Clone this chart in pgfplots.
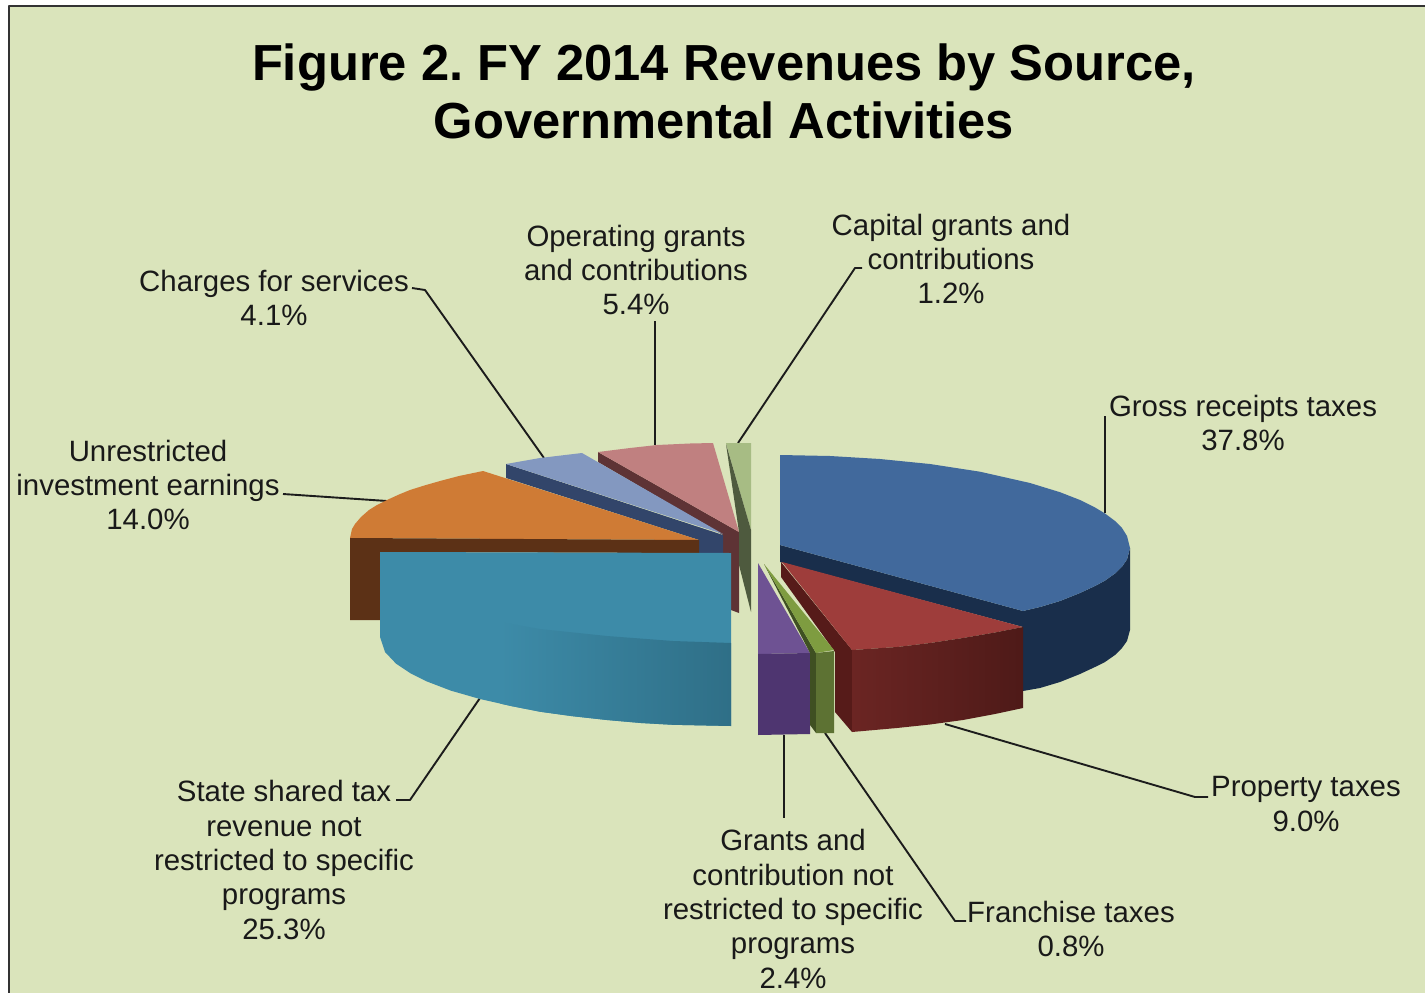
\documentclass[border=0pt]{standalone}
\usepackage{pgfplots}
\pgfplotsset{compat=1.18}
\usepackage{fontspec}
\setmainfont{Liberation Sans}
\frenchspacing
\definecolor{bg}{HTML}{DAE4BB}
\definecolor{blueT}{HTML}{41699C}\definecolor{blueD}{HTML}{192E4B}
\definecolor{redT}{HTML}{9E3D3B}\definecolor{redL}{HTML}{6B2523}\definecolor{redR}{HTML}{4E1A18}\definecolor{redS}{HTML}{561B19}
\definecolor{purT}{HTML}{6E5293}\definecolor{purF}{HTML}{4E3570}
\definecolor{grnT}{HTML}{7E9C40}\definecolor{grnF}{HTML}{5D7233}\definecolor{grnS}{HTML}{3F5022}
\definecolor{tealT}{HTML}{3D8BA8}\definecolor{tealD}{HTML}{2F6F87}
\definecolor{orgT}{HTML}{CF7B35}\definecolor{orgD}{HTML}{5C3116}
\definecolor{bgyT}{HTML}{8398C0}\definecolor{bgyD}{HTML}{32456A}
\definecolor{pnkT}{HTML}{C08080}\definecolor{pnkD}{HTML}{5E3335}
\definecolor{lgT}{HTML}{A7BC84}\definecolor{lgD}{HTML}{4E5A3E}
\definecolor{lead}{HTML}{1C1C1C}
\begin{document}
\begin{tikzpicture}
\begin{axis}[hide axis,scale only axis,width=1425pt,height=993pt,
  xmin=0,xmax=1425,ymin=0,ymax=993,y dir=reverse,
  every axis plot/.append style={line join=round}]
% page, background and frame
\addplot[fill=white,draw=none] coordinates {(0,0)(1425,0)(1425,993)(0,993)} --cycle;
\addplot[fill=bg,draw=none] coordinates {(9,6)(1425,6)(1425,993)(9,993)} --cycle;
\addplot[draw=black!80,line width=2pt] coordinates {(9,993)(9,6)(1425,6)};
% leaders
\addplot[lead,line width=1.9pt] coordinates {(1105,416)(1105,513)};
\addplot[lead,line width=1.9pt] coordinates {(1208,797)(1195,797)(945,724)};
\addplot[lead,line width=1.9pt] coordinates {(966,921)(955,921)(825,733)};
\addplot[lead,line width=1.9pt] coordinates {(784,735)(784,818)};
\addplot[lead,line width=1.9pt] coordinates {(480,698)(410,800)(396,800)};
\addplot[lead,line width=1.9pt] coordinates {(283,494)(387,501)};
\addplot[lead,line width=1.9pt] coordinates {(412,288)(425,290)(544,458)};
\addplot[lead,line width=1.9pt] coordinates {(655,321)(655,445)};
\addplot[lead,line width=1.9pt] coordinates {(862,268)(855,268)(738,443)};
% pink slice
\addplot[fill=pnkD,draw=none] coordinates {(598,452)(739,532)(739,613)(731,610)(731,553)(723,553)(723,535)(598,462)} --cycle;
\addplot[fill=pnkT,draw=none] coordinates {(598,452)(630,448)(657,445)(690,443.5)(713,443)(739,532)} --cycle;
% blue-gray slice
\addplot[fill=bgyD,draw=none] coordinates {(506,464)(723,535)(723,553)(699,553)(699,540)(506,478)} --cycle;
\addplot[fill=bgyT,draw=none] coordinates {(506,464)(540,458)(582,453)(723,534)} --cycle;
% capital grants
\addplot[fill=lgT,draw=none] coordinates {(726,443)(751,443)(751,530)} --cycle;
\addplot[fill=lgD,draw=none] coordinates {(726,444)(751,530)(751,612)(739,565)(739,532)} --cycle;
% orange slice
\addplot[fill=orgT,draw=none] coordinates {(350,538)(352,529)(355,524)(361,517)(369,510)(377,505)(387,500)(399,494.5)(410,490)(424,485.6)(440,481)(459,476)(483,471)(699,540)} --cycle;
\addplot[fill=orgD,draw=none] coordinates {(350,538)(699,540)(699,553)(380,552)(380,620)(350,620)} --cycle;
% teal slice
\addplot[fill=tealT,draw=none] coordinates {(380,552)(731,553)(731,726)(673,724.8)(641,723)(607,720)(571,716)(540,711.7)(511,706)(480,699)(451,690.7)(427,681.5)(411,673.6)(396,663.6)(385,652)(380,637)} --cycle;
\addplot[left color=tealT,right color=tealD,draw=none] coordinates {(500,622)(540,629)(607,636)(673,641)(731,643)(731,726)(673,724.8)(641,723)(607,720)(571,716)(540,711.7)(511,706)(500,703.5)} --cycle;
% blue slice
\addplot[fill=blueD,draw=none] coordinates {(780,545)(1023,611)(1040,607)(1060,601)(1080,593)(1095,586)(1105,580.6)(1115,573.5)(1122,566.7)(1127,559.5)(1130,548)(1130,630)(1127,641)(1122,648)(1115,655)(1105,662)(1095,667)(1080,674)(1060,682)(1040,688)(1023,691)(1023,627)(780,562)} --cycle;
\addplot[fill=blueT,draw=none] coordinates {(780,455)(830,456)(880,459)(930,464)(980,471.7)(1030,483)(1060,492.2)(1080,500)(1095,507.5)(1105,513.5)(1115,521)(1122,528)(1127,536)(1130,548)(1127,559.5)(1122,566.7)(1115,573.5)(1105,580.6)(1095,586)(1080,593)(1060,601)(1040,607)(1023,611)(780,545)} --cycle;
% red slice
\addplot[fill=redS,draw=none] coordinates {(781,562)(852,650)(852,732)(835,712)(835,652)(781,577)} --cycle;
\addplot[fill=redT,draw=none] coordinates {(782,562)(1023,627)(995,632.5)(963,638)(930,643)(897,647)(852,650)} --cycle;
\addplot[left color=redL,right color=redR,draw=none] coordinates {(852,650)(897,647)(930,643)(963,638)(995,632.5)(1023,627)(1023,708)(995,714)(963,720)(930,724.5)(897,728)(852,732)} --cycle;
% purple slice
\addplot[fill=purT,draw=none] coordinates {(758,563)(810,653)(758,654)} --cycle;
\addplot[fill=purF,draw=none] coordinates {(758,654)(810,653)(810,734)(758,735)} --cycle;
% franchise slice
\addplot[fill=grnS,draw=none] coordinates {(764,564)(816,653)(816,733)(810,725)(810,653)} --cycle;
\addplot[fill=grnT,draw=none] coordinates {(764,564)(834,650)(816,653)} --cycle;
\addplot[fill=grnF,draw=none] coordinates {(816,653)(834,651)(834,733)(816,733)} --cycle;
% text
\node[align=center,font=\fontsize{50.7}{58}\selectfont\bfseries] at (axis cs:724,91) {Figure 2. FY 2014 Revenues by Source,\\Governmental Activities};
\begin{scope}[every node/.style={align=center,font=\fontsize{29.4}{34.4}\selectfont,text=black!90}]
\node at (axis cs:951,259) {Capital grants and\\contributions\\1.2\%};
\node at (axis cs:636,270) {Operating grants\\and contributions\\5.4\%};
\node at (axis cs:274,298) {Charges for services\\4.1\%};
\node at (axis cs:1243,423) {Gross receipts taxes\\37.8\%};
\node at (axis cs:148,485) {Unrestricted\\investment earnings\\14.0\%};
\node at (axis cs:284,860) {State shared tax\\revenue not\\restricted to specific\\programs\\25.3\%};
\node at (axis cs:793,909) {Grants and\\contribution not\\restricted to specific\\programs\\2.4\%};
\node at (axis cs:1071,929) {Franchise taxes\\0.8\%};
\node at (axis cs:1306,804) {Property taxes\\9.0\%};
\end{scope}
\end{axis}
\end{tikzpicture}
\end{document}
